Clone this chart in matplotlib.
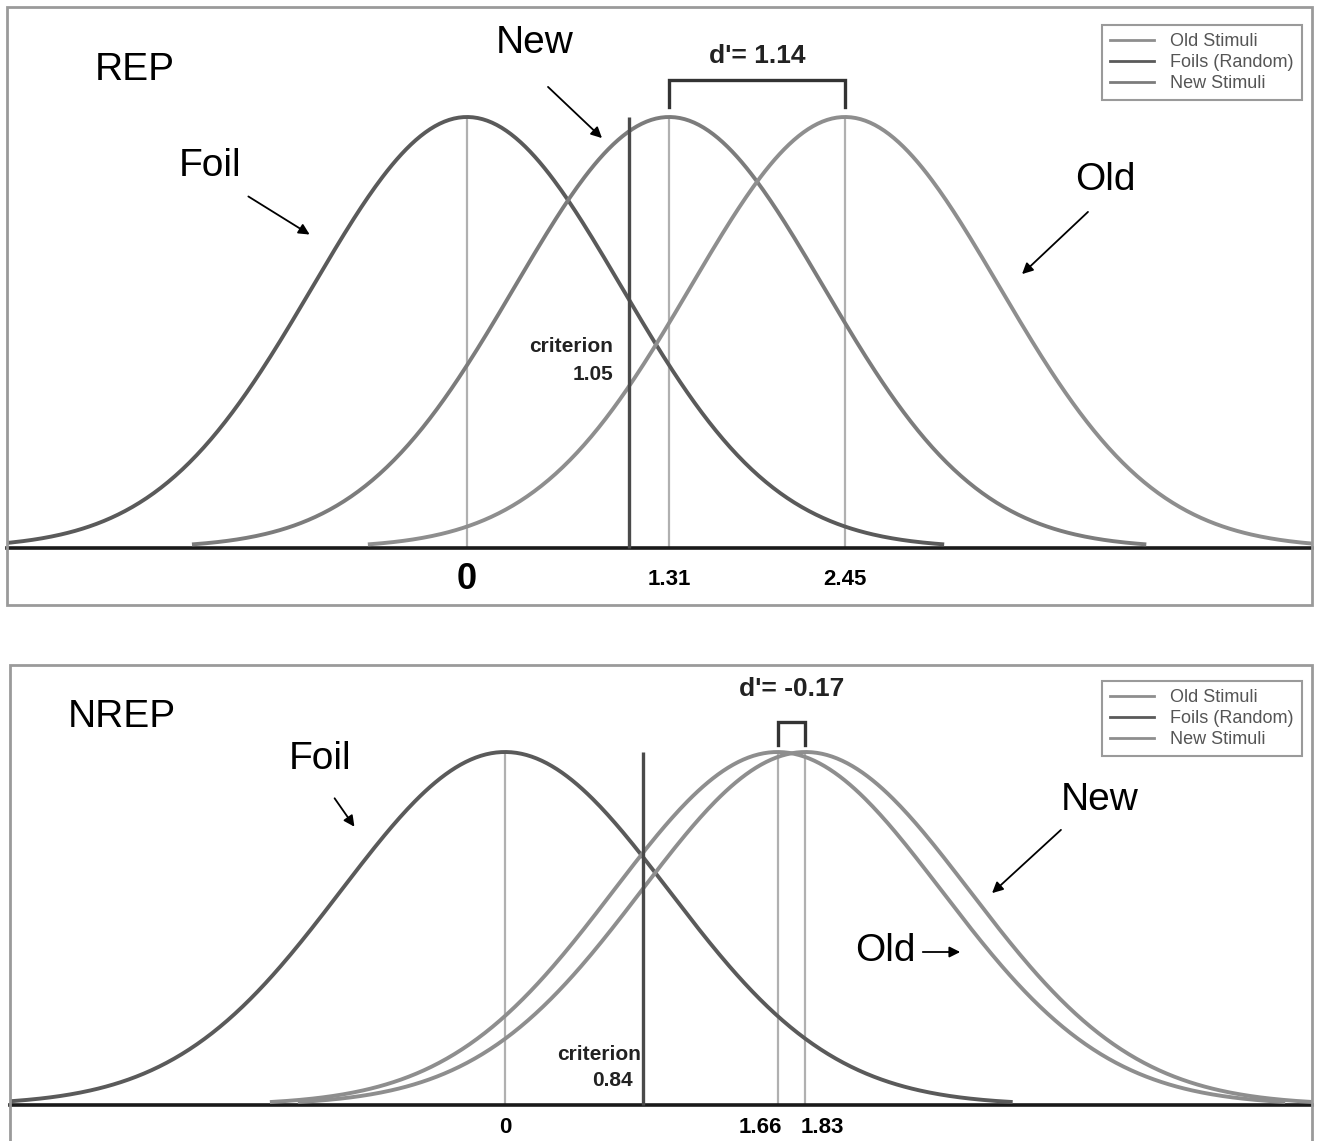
import numpy as np
import matplotlib.pyplot as plt
from matplotlib.lines import Line2D
from matplotlib.patches import Rectangle
from matplotlib.transforms import ScaledTranslation

W, H = 1317, 1141

# REP panel
rep_means = {"Foil": 0.0, "New": 1.31, "Old": 2.45}
rep_criterion = 1.05
rep_dprime = 1.14
rep_ticks = [0, 1.31, 2.45]
rep_ticklabels = ["0", "1.31", "2.45"]

# NREP panel
nrep_means = {"Foil": 0.0, "Old": 1.66, "New": 1.83}
nrep_criterion = 0.84
nrep_dprime = -0.17
nrep_ticks = [0, 1.66, 1.83]
nrep_ticklabels = ["0", "1.66", "1.83"]

legend_labels = ["Old Stimuli", "Foils (Random)", "New Stimuli"]

FONT = ["Liberation Sans", "DejaVu Sans"]

fig = plt.figure(figsize=(W / 100, H / 100), dpi=100)


def px_ax(left, top, right, bottom):
    return fig.add_axes([left / W, (H - bottom) / H, (right - left) / W, (bottom - top) / H])


def ftext(x, y, s, **kw):
    fig.text(x / W, 1 - y / H, s, family=FONT, **kw)


def farrow(x1, y1, x2, y2):
    fig.add_artist(plt.Annotation(
        "", xy=(x2, H - y2), xytext=(x1, H - y1), xycoords="figure pixels",
        arrowprops=dict(arrowstyle="-|>", color="black", lw=1.3, mutation_scale=16)))


def panel(ax, means, colors, crit, ticks, ticklabels, tick_sizes, tick_shift, pad, xlim, ylim,
          bracket, dtext_y, dprime, leg_anchor):
    for name, m in means.items():
        x = np.linspace(m - 3.08, m + 3.08, 400)
        ax.plot(x, np.exp(-(x - m) ** 2 / 2), color=colors[name], lw=2.8, zorder=3)
    ax.vlines(list(means.values()), 0, 1, color="#b0b0b0", lw=1.6, zorder=2)
    ax.vlines(crit, 0, 1.0, color="#4a4a4a", lw=2.4, zorder=4)

    lo, hi = means["New"], means["Old"]
    a, b = min(lo, hi), max(lo, hi)
    ax.plot([a, a, b, b], [bracket[0], bracket[1], bracket[1], bracket[0]],
            color="#333333", lw=2.4, solid_joinstyle="miter", zorder=4)
    ax.text((a + b) / 2, dtext_y, f"d'= {dprime:.2f}", ha="center", va="center",
            fontsize=19, fontweight="bold", family=FONT, color="#222222")

    ax.set_xlim(*xlim)
    ax.set_ylim(*ylim)
    for s in ["top", "left", "right"]:
        ax.spines[s].set_visible(False)
    ax.spines["bottom"].set_position(("data", 0))
    ax.spines["bottom"].set_linewidth(2.6)
    ax.spines["bottom"].set_color("#1a1a1a")
    ax.set_yticks([])
    ax.set_xticks(ticks, ticklabels)
    ax.tick_params(axis="x", length=0, pad=pad)
    for lab, fs, dx in zip(ax.get_xticklabels(), tick_sizes, tick_shift):
        lab.set_fontsize(fs)
        lab.set_fontweight("bold")
        lab.set_family(FONT)
        lab.set_va("center")
        if dx:
            lab.set_transform(lab.get_transform() + ScaledTranslation(dx / 100, 0, fig.dpi_scale_trans))
    ax.add_patch(Rectangle((0, 0), 1, 1, transform=ax.transAxes, fill=False,
                           ec="#9a9a9a", lw=2, clip_on=False, zorder=5))

    handles = [Line2D([], [], color=colors["Old"], lw=2),
               Line2D([], [], color=colors["Foil"], lw=2),
               Line2D([], [], color=colors["New"], lw=2)]
    leg = ax.legend(handles, legend_labels, loc="upper right", bbox_to_anchor=leg_anchor,
                    fancybox=False, edgecolor="#9a9a9a", labelcolor="#555555",
                    borderpad=0.45, labelspacing=0.22, handlelength=2.4, handletextpad=0.9,
                    framealpha=1, prop={"family": FONT, "size": 13})
    leg.get_frame().set_linewidth(1.5)


# top panel: frame x 7..1312, y 7..605, baseline 548, peak 117
ax1 = px_ax(7, 7, 1312, 605)
panel(ax1, rep_means, {"Foil": "#5a5a5a", "New": "#7c7c7c", "Old": "#8e8e8e"},
      rep_criterion, rep_ticks, rep_ticklabels, [26, 16, 16], [0, 0, 0], 23,
      ((7 - 467) / 154.3, (1312 - 467) / 154.3), (-57 / 431, 541 / 431),
      (1.023, 1.086), 1.141, rep_dprime, (0.999, 0.985))

# bottom panel: frame x 10..1312, y 665..(cut), baseline 1105, peak 752
ax2 = px_ax(10, 665, 1312, 1150)
panel(ax2, nrep_means, {"Foil": "#5a5a5a", "New": "#8e8e8e", "Old": "#8e8e8e"},
      nrep_criterion, nrep_ticks, nrep_ticklabels, [16, 16, 16], [0, -17, 17], 16,
      ((10 - 505) / 164.2, (1312 - 505) / 164.2), (-45 / 353, 440 / 353),
      (1.02, 1.085), 1.178, nrep_dprime, (0.999, 0.986))

# criterion labels
ftext(613, 346, "criterion", ha="right", va="center", fontsize=15, fontweight="bold", color="#222222")
ftext(613, 374, "1.05", ha="right", va="center", fontsize=15, fontweight="bold", color="#222222")
ftext(641, 1054, "criterion", ha="right", va="center", fontsize=15, fontweight="bold", color="#222222")
ftext(633, 1080, "0.84", ha="right", va="center", fontsize=15, fontweight="bold", color="#222222")

# curve labels and arrows, top
ftext(135, 70, "REP", ha="center", va="center", fontsize=28)
ftext(210, 166, "Foil", ha="center", va="center", fontsize=28)
ftext(535, 43, "New", ha="center", va="center", fontsize=28)
ftext(1105, 180, "Old", ha="center", va="center", fontsize=28)
farrow(246, 195, 312, 236)
farrow(546, 85, 604, 140)
farrow(1090, 210, 1020, 276)

# curve labels and arrows, bottom
ftext(122, 717, "NREP", ha="center", va="center", fontsize=28)
ftext(320, 759, "Foil", ha="center", va="center", fontsize=28)
ftext(1100, 800, "New", ha="center", va="center", fontsize=28)
ftext(885, 951, "Old", ha="center", va="center", fontsize=28)
farrow(333, 796, 356, 829)
farrow(1063, 828, 990, 895)
farrow(920, 952, 963, 952)

fig.savefig("out.png", dpi=100)
